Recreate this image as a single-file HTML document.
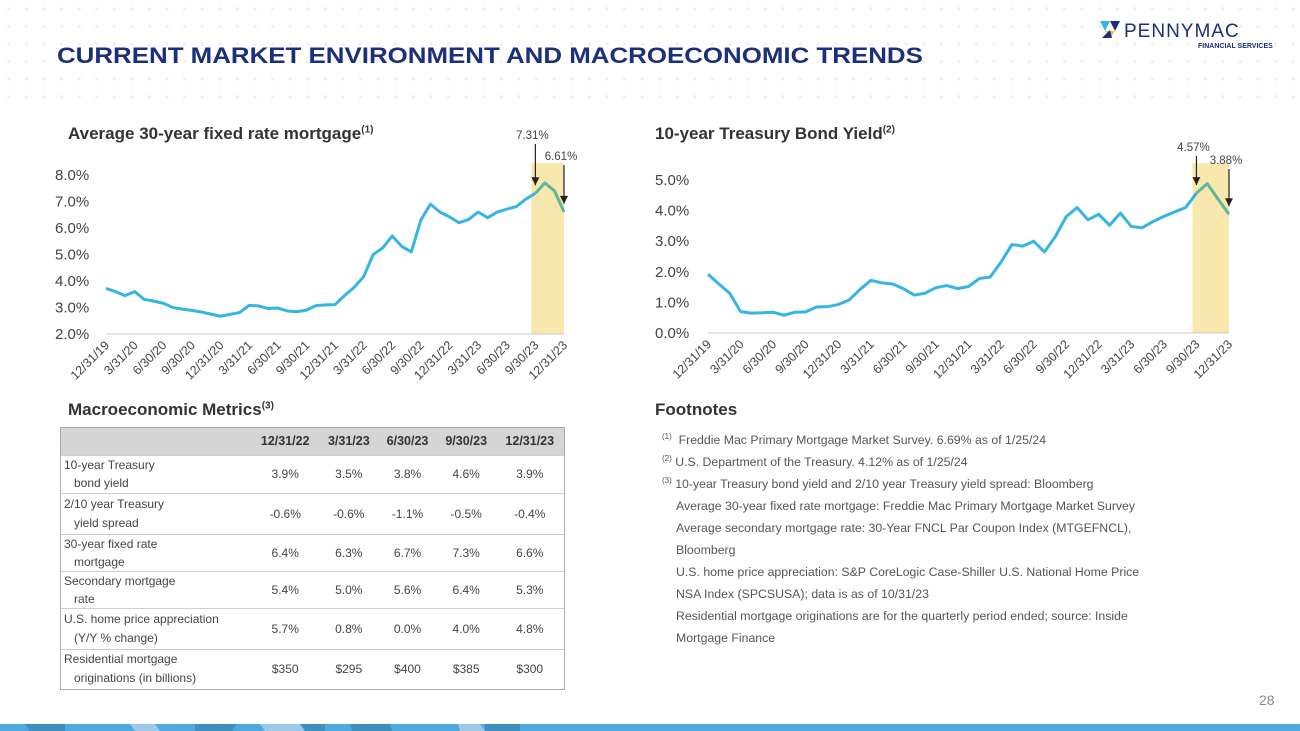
<!DOCTYPE html>
<html><head><meta charset="utf-8">
<style>
body{margin:0;width:1300px;height:731px;overflow:hidden;background:#fff;font-family:"Liberation Sans",sans-serif;position:relative}
.dots{position:absolute;left:0;top:0;width:1300px;height:112px;background-image:radial-gradient(circle,#eef1f6 1.6px,transparent 2px);background-size:17.6px 17.6px;}
.abs{position:absolute}
.title{left:57px;top:43px;font-size:22.5px;font-weight:bold;color:#1c2f7c;transform:scaleX(1.15);transform-origin:left top;white-space:nowrap}
.ct{font-size:17px;font-weight:bold;color:#333}
.ct sup{font-size:10px}
table{border-collapse:collapse;font-size:12px;color:#444}
td{border-top:1px solid #cfcfcf;padding:0}
.foot{left:662px;font-size:12.3px;color:#555;line-height:22px}
.foot sup{font-size:8px;line-height:0}
</style></head><body>
<div class="dots"></div>
<div class="abs title">CURRENT MARKET ENVIRONMENT AND MACROECONOMIC TRENDS</div>
<div class="abs" style="left:1100px;top:18px">
<svg width="190" height="34"><polygon points="0,3 10,3 5,13" fill="#3ab4e4"/><polygon points="10,3 20,3 15,13" fill="#1c2f7c"/><polygon points="5,13 15,13 10,20" fill="#f4c430"/><polygon points="2,20 10,12 12,20" fill="#1c2f7c"/>
<text x="24" y="19" font-size="19" font-family="Liberation Sans" fill="#1c2f7c" letter-spacing="1">PENNYMAC</text>
<text x="98" y="30" font-size="7" font-family="Liberation Sans" fill="#1c2f7c" font-weight="bold">FINANCIAL SERVICES</text></svg></div>

<div class="abs ct" style="left:68px;top:124px">Average 30-year fixed rate mortgage<sup>(1)</sup></div>
<div class="abs ct" style="left:655px;top:124px">10-year Treasury Bond Yield<sup>(2)</sup></div>

<svg class="abs" id="chartL" style="left:0;top:0" width="650" height="400"></svg>
<svg class="abs" id="chartR" style="left:0;top:0;overflow:visible" width="1300" height="400"></svg>

<div class="abs ct" style="left:68px;top:400px">Macroeconomic Metrics<sup>(3)</sup></div>
<div class="abs" style="left:60px;top:427px;width:503px;border:1px solid #aaa">
<table style="width:100%">
<tr style="background:#d5d5d5;height:27px;font-weight:bold;color:#333;font-size:12.5px"><td style="border:0;width:190px"></td><td style="border:0;text-align:center">12/31/22</td><td style="border:0;text-align:center">3/31/23</td><td style="border:0;text-align:center">6/30/23</td><td style="border:0;text-align:center">9/30/23</td><td style="border:0;text-align:center">12/31/23</td></tr>
<tr style="height:38px"><td style="padding-left:3px;line-height:18px">10-year Treasury<br>&nbsp;&nbsp;&nbsp;bond yield</td><td align="center">3.9%</td><td align="center">3.5%</td><td align="center">3.8%</td><td align="center">4.6%</td><td align="center">3.9%</td></tr>
<tr style="height:41px"><td style="padding-left:3px;line-height:19px">2/10 year Treasury<br>&nbsp;&nbsp;&nbsp;yield spread</td><td align="center">-0.6%</td><td align="center">-0.6%</td><td align="center">-1.1%</td><td align="center">-0.5%</td><td align="center">-0.4%</td></tr>
<tr style="height:37px"><td style="padding-left:3px;line-height:18px">30-year fixed rate<br>&nbsp;&nbsp;&nbsp;mortgage</td><td align="center">6.4%</td><td align="center">6.3%</td><td align="center">6.7%</td><td align="center">7.3%</td><td align="center">6.6%</td></tr>
<tr style="height:37px"><td style="padding-left:3px;line-height:18px">Secondary mortgage<br>&nbsp;&nbsp;&nbsp;rate</td><td align="center">5.4%</td><td align="center">5.0%</td><td align="center">5.6%</td><td align="center">6.4%</td><td align="center">5.3%</td></tr>
<tr style="height:41px"><td style="padding-left:3px;line-height:19px">U.S. home price appreciation<br>&nbsp;&nbsp;&nbsp;(Y/Y % change)</td><td align="center">5.7%</td><td align="center">0.8%</td><td align="center">0.0%</td><td align="center">4.0%</td><td align="center">4.8%</td></tr>
<tr style="height:40px"><td style="padding-left:3px;line-height:19px">Residential mortgage<br>&nbsp;&nbsp;&nbsp;originations (in billions)</td><td align="center">$350</td><td align="center">$295</td><td align="center">$400</td><td align="center">$385</td><td align="center">$300</td></tr>
</table></div>

<div class="abs ct" style="left:655px;top:400px">Footnotes</div>
<div class="abs foot" style="top:429px">
<div><sup>(1)</sup>&nbsp; Freddie Mac Primary Mortgage Market Survey. 6.69% as of 1/25/24</div>
<div><sup>(2)</sup> U.S. Department of the Treasury. 4.12% as of 1/25/24</div>
<div><sup>(3)</sup> 10-year Treasury bond yield and 2/10 year Treasury yield spread: Bloomberg</div>
<div style="padding-left:14px">Average 30-year fixed rate mortgage: Freddie Mac Primary Mortgage Market Survey<br>Average secondary mortgage rate: 30-Year FNCL Par Coupon Index (MTGEFNCL),<br>Bloomberg<br>U.S. home price appreciation: S&amp;P CoreLogic Case-Shiller U.S. National Home Price<br>NSA Index (SPCSUSA); data is as of 10/31/23<br>Residential mortgage originations are for the quarterly period ended; source: Inside<br>Mortgage Finance</div>
</div>

<div class="abs" style="left:1259px;top:692px;font-size:14px;color:#888">28</div>
<svg class="abs" style="left:0;top:724px" width="1300" height="7">
<rect width="1300" height="7" fill="#4fa9de"/>
<polygon points="25,0 65,0 65,7 30,7" fill="#3f8ec0"/><polygon points="130,0 155,0 160,7 135,7" fill="#9cc9ea"/><polygon points="195,0 237,0 232,7 195,7" fill="#3f8ec0"/><polygon points="260,0 300,0 305,7 265,7" fill="#9cc9ea"/><polygon points="300,0 325,0 325,7 305,7" fill="#3f8ec0"/><polygon points="350,0 390,0 392,7 352,7" fill="#3f8ec0"/><polygon points="458,0 480,0 485,7 460,7" fill="#9cc9ea"/><polygon points="485,0 520,0 520,7 485,7" fill="#3f8ec0"/>
</svg>

<script>
const NS="http://www.w3.org/2000/svg";
const tickLabels=["12/31/19","3/31/20","6/30/20","9/30/20","12/31/20","3/31/21","6/30/21","9/30/21","12/31/21","3/31/22","6/30/22","9/30/22","12/31/22","3/31/23","6/30/23","9/30/23","12/31/23"];
const mortgageRates=[3.72,3.60,3.45,3.60,3.31,3.24,3.16,3.00,2.94,2.89,2.83,2.75,2.67,2.74,2.81,3.08,3.06,2.96,2.98,2.87,2.84,2.90,3.07,3.10,3.11,3.45,3.76,4.16,5.00,5.25,5.70,5.30,5.10,6.30,6.90,6.60,6.42,6.20,6.32,6.60,6.39,6.60,6.71,6.81,7.09,7.31,7.70,7.40,6.61];
const treasuryYields=[1.92,1.60,1.30,0.70,0.65,0.66,0.68,0.58,0.68,0.69,0.85,0.86,0.93,1.08,1.42,1.72,1.64,1.60,1.45,1.24,1.30,1.48,1.55,1.45,1.52,1.78,1.83,2.32,2.89,2.84,3.00,2.65,3.15,3.80,4.10,3.70,3.88,3.52,3.92,3.48,3.44,3.64,3.81,3.96,4.10,4.57,4.88,4.37,3.88];
const mortgageTicks=[2,3,4,5,6,7,8];
const treasuryTicks=[0,1,2,3,4,5];
const mortgageCallouts=["7.31%","6.61%"];
const treasuryCallouts=["4.57%","3.88%"];

function el(svg,tag,attrs){const e=document.createElementNS(NS,tag);for(const k in attrs)e.setAttribute(k,attrs[k]);svg.appendChild(e);return e;}

function draw(id,data,ticks,callouts,cfg){
 const svg=document.getElementById(id);
 const n=data.length;
 const x=i=>cfg.x0+(cfg.x1-cfg.x0)*i/(n-1);
 const y=v=>cfg.y0-(v-ticks[0])*(cfg.y0-cfg.yTop)/(ticks[ticks.length-1]-ticks[0]);
 const hs=x(45)-4;
 const sh=el(svg,"rect",{x:hs,y:163,width:cfg.x1-hs,height:cfg.y0-163,fill:"#f9e8ae"});
 
 
 const ax=el(svg,"line",{x1:cfg.x0,x2:cfg.x1,y1:cfg.y0,y2:cfg.y0,stroke:"#ccc","stroke-width":1});
 
 
 ticks.forEach(t=>{const tx=el(svg,"text",{x:cfg.lx,y:y(t)+5,"font-size":15,fill:"#444","font-family":"Liberation Sans"});tx.textContent=t.toFixed(1)+"%";
  
  });
 tickLabels.forEach((l,i)=>{const px=cfg.x0+(cfg.x1-cfg.x0)*i/(tickLabels.length-1);
  const tx=el(svg,"text",{x:px+4,y:cfg.y0+12,"font-size":12.5,fill:"#444","font-family":"Liberation Sans","text-anchor":"end",transform:`rotate(-45 ${px+4} ${cfg.y0+12})`});tx.textContent=l;
  
  });
 let d1="",d2="";
 data.forEach((v,i)=>{if(i<=45)d1+=(i?"L":"M")+x(i)+","+y(v);if(i>=45)d2+=(i>45?"L":"M")+x(i)+","+y(v);});
 const p1=el(svg,"path",{d:d1,fill:"none",stroke:"#36b5e5","stroke-width":3,"stroke-linejoin":"round"});
 
 
 const p2=el(svg,"path",{d:d2,fill:"none",stroke:"#5db79b","stroke-width":3,"stroke-linejoin":"round"});
 
 
 [[45,0,cfg.c1y],[n-1,1,cfg.c2y]].forEach(([i,k,ly])=>{const px=x(i);
  const t=el(svg,"text",{x:px-3,y:ly,"font-size":11.5,fill:"#444","font-family":"Liberation Sans","text-anchor":"middle"});t.textContent=callouts[k];
  
  
  const ay=y(data[i])-8;
  const a=el(svg,"line",{x1:px,x2:px,y1:ly+5,y2:ay,stroke:"#222","stroke-width":1.2});
  
  
  el(svg,"polygon",{points:`${px-4},${ay-8} ${px+4},${ay-8} ${px},${ay}`,fill:"#222"});});
}
draw("chartL",mortgageRates,mortgageTicks,mortgageCallouts,{x0:106,x1:564,y0:334,yTop:175,lx:55,c1y:139,c2y:160});
draw("chartR",treasuryYields,treasuryTicks,treasuryCallouts,{x0:708,x1:1229,y0:333,yTop:180,lx:655,c1y:151,c2y:164});
</script>
</body></html>
